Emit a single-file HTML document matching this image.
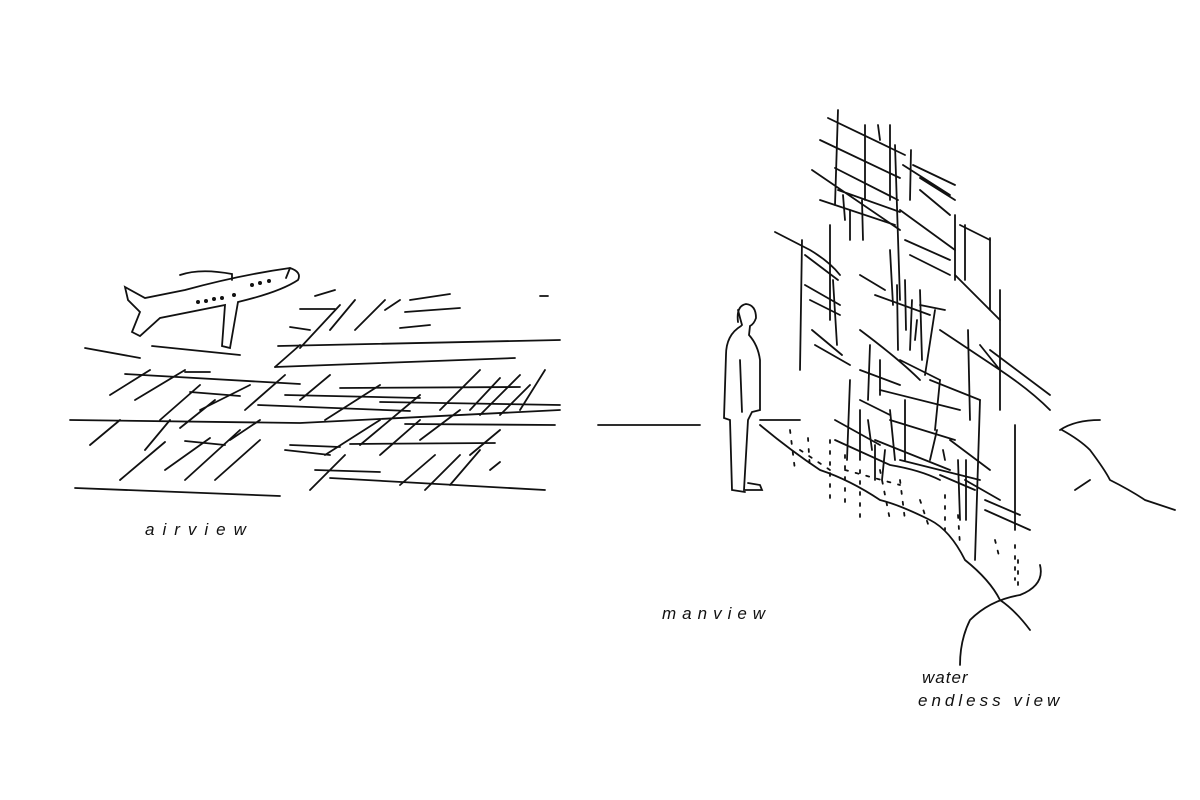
<!DOCTYPE html>
<html><head><meta charset="utf-8"><style>
html,body{margin:0;padding:0;background:#fff;}
svg{display:block}
text{font-family:"Liberation Sans",sans-serif;font-size:17px;fill:#111;font-style:italic;letter-spacing:1px}
</style></head><body>
<svg width="1200" height="800" viewBox="0 0 1200 800" xmlns="http://www.w3.org/2000/svg">
<rect width="1200" height="800" fill="#fff"/>
<g stroke="#111" stroke-width="1.8" fill="none" stroke-linecap="round">
<path d="M125,287 L145,298 L185,290 Q240,275 290,268 Q302,272 298,280 Q280,292 238,302 L230,348 L222,346 L225,305 L160,318 L140,336 L132,332 L140,312 L128,300 Z"/>
<path d="M180,275 Q200,268 232,274 L232,280"/>
<path d="M290,268 L286,278"/>
<g fill="#111" stroke="none"><circle cx="198" cy="302" r="2"/><circle cx="206" cy="301" r="2"/><circle cx="214" cy="299" r="2"/><circle cx="222" cy="298" r="2"/><circle cx="234" cy="295" r="2"/><circle cx="252" cy="285" r="2"/><circle cx="260" cy="283" r="2"/><circle cx="269" cy="281" r="2"/></g>
<path d="M85,348 L140,358 M152,346 L240,355 M278,346 L560,340 M275,367 L515,358 M125,374 L300,384 M185,372 L210,372
M70,420 L300,423 L560,410 M75,488 L280,496 M315,470 L380,472 M330,478 L545,490
M285,395 L420,398 M190,392 L240,396 M340,388 L520,387 M258,405 L410,411 M380,402 L560,405
M290,445 L340,447 M185,441 L225,445 M350,444 L495,443 M405,424 L555,425 M285,450 L330,455 M300,309 L335,309 M410,300 L450,294 M405,312 L460,308 M400,328 L430,325 M290,327 L310,330 M540,296 L548,296 M315,296 L335,290"/>
<path d="M90,445 L120,420 M120,480 L165,442 M145,450 L170,420 M165,470 L210,438 M185,480 L240,430 M215,480 L260,440 M230,440 L260,420
M110,395 L150,370 M135,400 L185,370 M160,420 L200,385 M180,428 L215,400 M200,410 L250,385 M245,410 L285,375
M300,400 L330,375 M325,420 L380,385 M360,445 L420,395 M310,490 L345,455 M325,455 L380,420 M380,455 L420,420 M400,485 L435,455 M425,490 L460,455 M450,485 L480,450 M470,455 L500,430 M490,470 L500,462
M440,410 L480,370 M470,410 L500,378 M480,415 L520,375 M500,415 L530,385 M520,410 L545,370
M300,348 L340,305 M330,330 L355,300 M355,330 L385,300 M385,310 L400,300 M275,367 L300,345 M420,440 L460,410"/>
<path d="M738,322 Q736,306 746,304 Q756,305 756,318 Q754,324 750,326 L749,335 Q758,345 760,360 L760,410 L752,412 L748,420 L744,490 L762,490 L760,485 L748,483"/>
<path d="M741,326 Q726,335 726,355 L724,418 L730,420 L732,490 L745,492"/>
<path d="M740,360 L742,412 M738,310 Q740,318 742,325"/>
<path d="M598,425 L700,425 M760,420 L800,420 M1060,430 Q1075,420 1100,420"/>
<path d="M760,425 Q790,450 820,470 Q850,480 880,500 Q900,505 930,520 Q950,530 965,560 Q990,580 1000,600 Q1015,610 1030,630"/>
<path d="M1040,565 Q1045,585 1020,595 Q990,600 970,620 Q960,640 960,665"/>
<path d="M1062,430 Q1080,440 1090,450 Q1105,470 1110,480 Q1130,490 1145,500 Q1160,505 1175,510 M1075,490 L1090,480"/>
<path d="M838,110 L835,205 M865,125 L865,200 M878,125 L880,140 M890,125 L890,200 M895,145 L900,300 M911,150 L910,200 M955,215 L955,280 M965,225 L965,280 M990,238 L990,310 M968,330 L970,420 M1000,290 L1000,410
M802,240 L800,370 M830,225 L830,320 M833,280 L837,345 M843,195 L845,220 M850,210 L850,240 M862,200 L863,240 M890,250 L893,305 M897,285 L898,350 M905,280 L906,330 M912,300 L910,350 M917,320 L915,340 M920,290 L922,360 M935,310 L925,375 M890,410 L895,460 M905,400 L905,460 M850,380 L847,460 M860,410 L860,460 M868,420 L872,450 M875,445 L875,480 M885,450 L882,480 M870,345 L868,400 M880,360 L880,395
M940,380 L935,430 M937,430 L930,460 M980,400 L975,560 M1015,425 L1015,530 M958,460 L960,520 M966,460 L966,520 M943,450 L945,460"/>
<path d="M828,118 L905,155 M820,140 L900,178 M835,168 L898,200 M838,190 L900,212 M900,210 L955,250 M903,165 L950,195 M913,165 L955,185 M920,178 L955,200 M920,190 L950,215
M812,170 L900,230 M820,200 L895,225 M905,240 L950,260 M910,255 L950,275 M960,225 L990,240 M955,275 L1000,320
M775,232 L810,250 Q830,262 840,275 M805,255 L838,280 M805,285 L840,305 M810,300 L840,315 M812,330 L842,355 M815,345 L850,365
M860,275 L885,290 M875,295 L930,315 M920,305 L945,310 M940,330 L1000,370 Q1030,390 1050,410 M980,345 L1000,370 M990,350 L1050,395
M860,330 Q900,360 920,380 M900,360 L940,380 M930,380 L980,400 M860,370 L900,385 M880,390 L960,410 M860,400 L890,415
M835,420 L880,445 M835,440 L890,465 Q920,470 940,480 M875,440 L950,470 M940,475 L975,490 M890,420 L955,440 M950,440 L990,470 M965,480 L1000,500 M985,500 L1020,515 M985,510 L1030,530
M900,460 L980,480"/>
<path stroke-dasharray="3,8" d="M790,430 L795,470 M808,438 L810,470 M830,440 L830,500 M845,455 L845,510 M860,470 L860,520 M880,470 L890,520 M900,480 L905,520 M920,500 L930,530 M945,495 L945,530 M958,515 L960,545 M995,540 L1000,560 M1015,545 L1015,580 M1018,560 L1018,590 M845,470 L900,485 M800,450 L830,470"/>
</g>
<text x="145" y="535" style="letter-spacing:8px">airview</text>
<text x="662" y="619" style="letter-spacing:6px">manview</text>
<text x="922" y="683">water</text>
<text x="918" y="706" style="letter-spacing:4px">endless view</text>
</svg>
</body></html>
